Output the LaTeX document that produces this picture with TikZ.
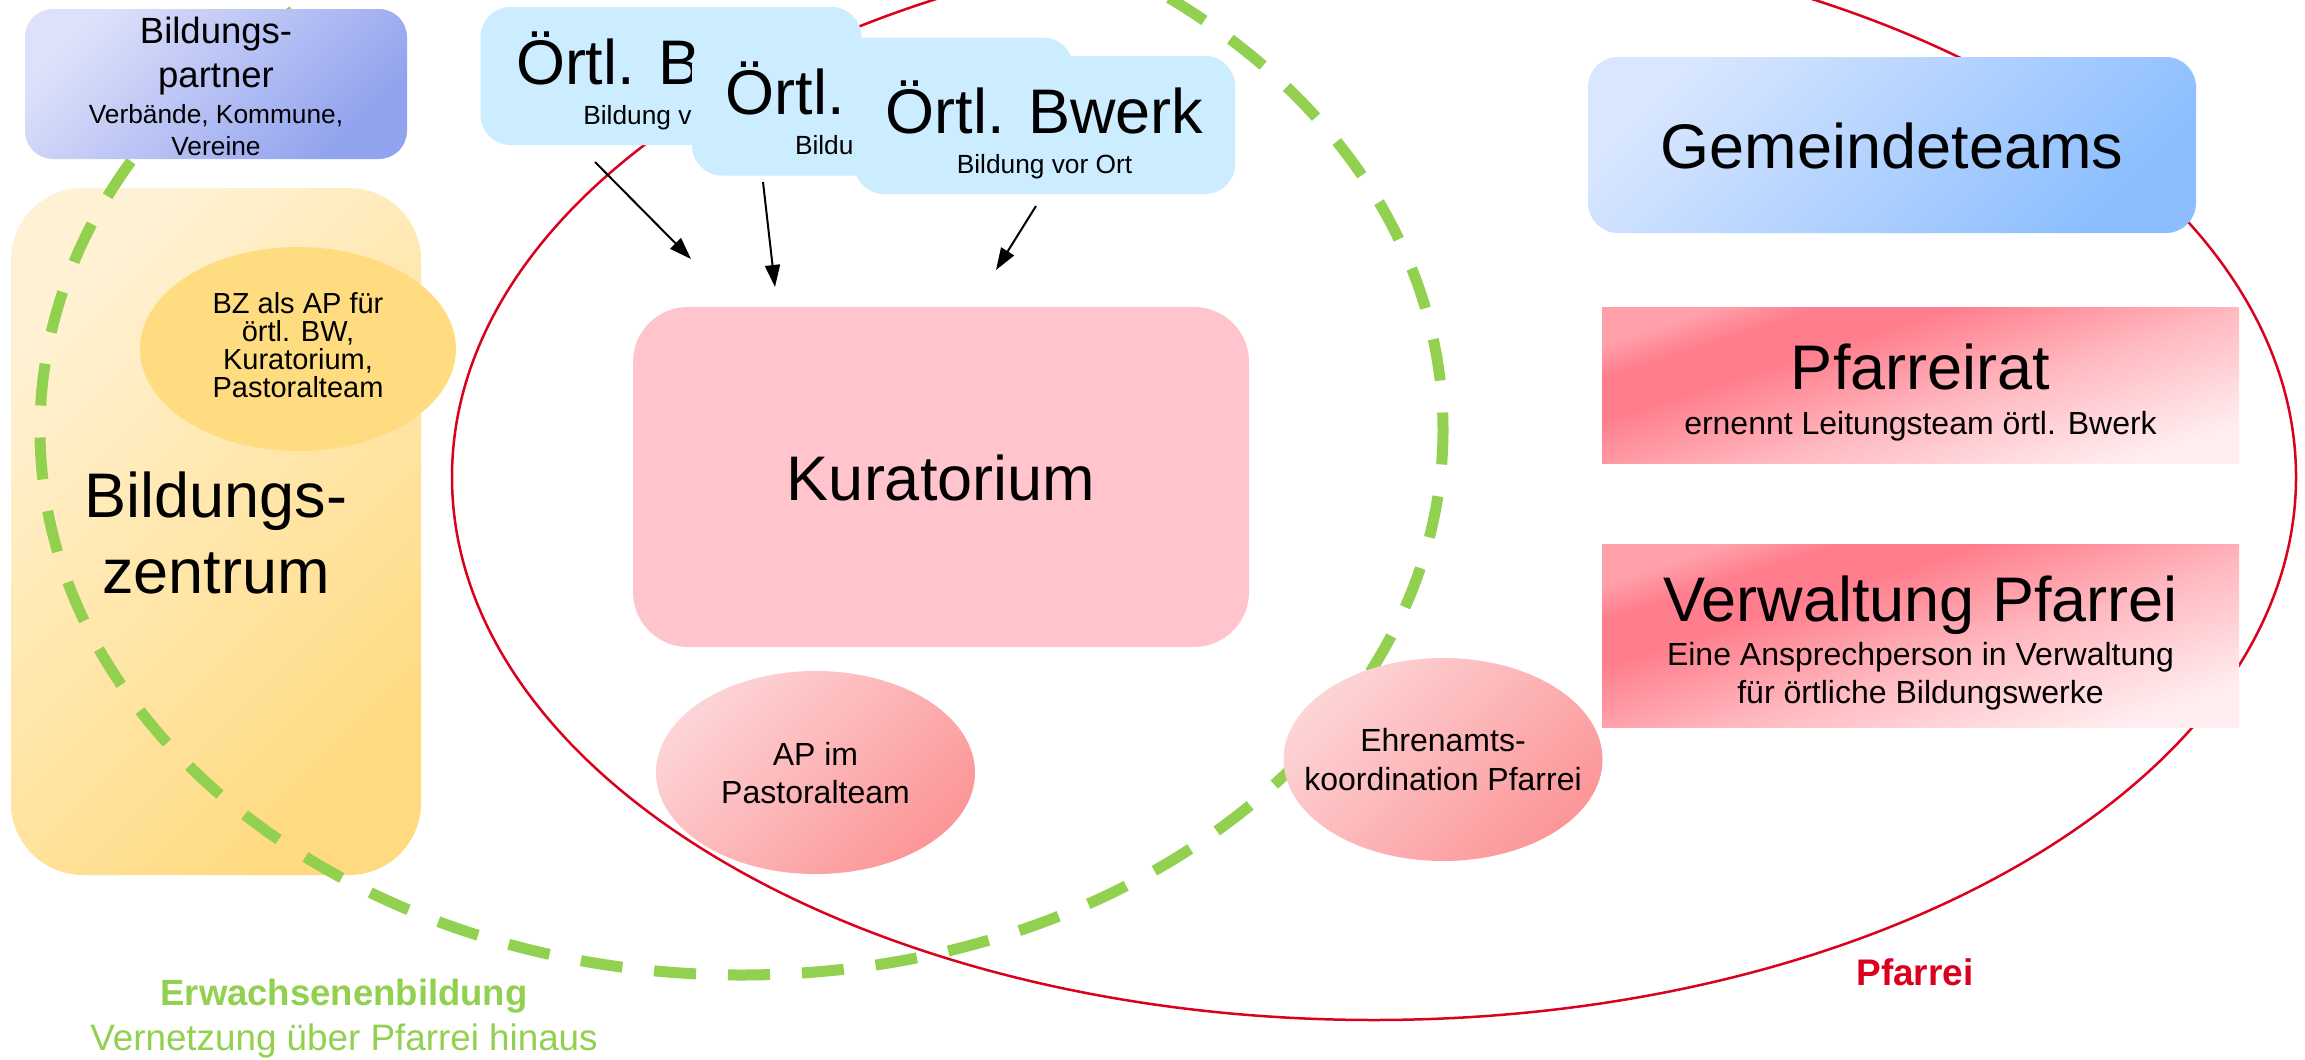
\documentclass[tikz,border=0pt]{standalone}
\usepackage{fontspec}
\setmainfont{Liberation Sans}
\usetikzlibrary{shapes.geometric,arrows.meta}
\definecolor{ewbgreen}{RGB}{146,208,80}
\definecolor{pfred}{RGB}{218,0,30}
\definecolor{oeblue}{RGB}{204,236,255}
\definecolor{kurpink}{RGB}{255,196,204}
\definecolor{bzyellow}{RGB}{255,220,128}
\definecolor{bpA}{RGB}{221,225,250}
\definecolor{bpB}{RGB}{145,162,238}
\definecolor{gmA}{RGB}{216,230,255}
\definecolor{gmB}{RGB}{140,190,255}
\definecolor{bzA}{RGB}{255,242,212}
\definecolor{bzB}{RGB}{255,218,128}
\definecolor{elA}{RGB}{253,212,214}
\definecolor{elB}{RGB}{252,150,152}
\definecolor{pfW}{RGB}{255,238,240}
\definecolor{pfL}{RGB}{255,185,192}
\definecolor{pfS}{RGB}{255,125,140}
\definecolor{pfT}{RGB}{255,160,170}
\pgfdeclareverticalshading{pfshade}{100bp}{color(0bp)=(pfW); color(25bp)=(pfW); color(45bp)=(pfL); color(62bp)=(pfS); color(69bp)=(pfS); color(75bp)=(pfT); color(100bp)=(pfT)}
\begin{document}
\begin{tikzpicture}[x=1pt,y=-1pt,
  box/.style={rectangle, inner sep=0pt, outer sep=0pt, draw=none},
  oebox/.style={box, fill=oeblue, minimum width=381pt, minimum height=138pt, rounded corners=30pt},
  txt/.style={inner sep=0pt, outer sep=0pt, anchor=base, align=center},
  txtw/.style={inner sep=0pt, outer sep=0pt, anchor=base west},
  ftbig/.style={font=\fontsize{63}{76}\selectfont},
  ftmid/.style={font=\fontsize{32}{38}\selectfont},
  ftsmall/.style={font=\fontsize{26.3}{32}\selectfont},
  pfbox/.style={box, shade, shading=pfshade, shading angle=18, minimum width=637pt},
  pinkell/.style={ellipse, inner sep=0pt, draw=none, top color=elA, bottom color=elB, shading angle=45, minimum width=319pt, minimum height=203pt},
  arr/.style={line width=2pt, -{Triangle[length=22pt,width=15pt]}}
]
\clip (0,0) rectangle (2305,1060);
\fill[white] (0,0) rectangle (2305,1060);

% Bildungszentrum box
\node[box, top color=bzA, bottom color=bzB, shading angle=45, minimum width=410pt, minimum height=687pt, rounded corners=72pt] (bz) at (216,531.5) {};

% green dashed ellipse (Erwachsenenbildung)
\node[ellipse, draw=ewbgreen, line width=11pt, dash pattern=on 42pt off 32pt, dash phase=24.5pt, minimum width=1403pt, minimum height=1090pt, inner sep=0pt] (ewb) at (741.5,430) {};

% red ellipse (Pfarrei)
\node[ellipse, draw=pfred, line width=2.5pt, minimum width=1844pt, minimum height=1086pt, inner sep=0pt] (pfarrei) at (1374,477) {};

% Bildungspartner
\node[box, top color=bpA, bottom color=bpB, shading angle=45, minimum width=382pt, minimum height=150pt, rounded corners=28pt] (bp) at (216,84) {};
\node[txt, font=\fontsize{36.5}{44}\selectfont] (bpt) at (216,87) {Bildungs-\\partner};
\node[txt, ftsmall] (bps) at (216,155) {Verbände, Kommune,\\Vereine};

% BZ ellipse and text
\node[ellipse, inner sep=0pt, fill=bzyellow, minimum width=316pt, minimum height=204pt] (bzap) at (298,349) {};
\node[txt, font=\fontsize{29}{28}\selectfont] (bzapt) at (298,397) {BZ als AP für\\örtl. BW,\\Kuratorium,\\Pastoralteam};
\node[txt, ftbig] (bzt) at (216,593) {Bildungs-\\zentrum};

% Oertliche Bildungswerke (partly covered by each other)
\node[oebox] (b1) at (671,76) {};
\node[txtw, ftbig] (b1t) at (516,84) {Örtl. B};
\node[txtw, ftsmall] (b1s) at (583.3,124) {Bildung v};
\node[oebox] (b2) at (882.5,106.5) {};
\node[txtw, ftbig] (b2t) at (725.5,114.5) {Örtl.};
\node[txtw, ftsmall] (b2s) at (795,154.5) {Bildu};
\node[oebox] (b3) at (1044.5,125) {};
\node[txt, ftbig] (b3t) at (1044.5,133) {Örtl. Bwerk};
\node[txt, ftsmall] (b3s) at (1044.5,173) {Bildung vor Ort};

% Kuratorium
\node[box, fill=kurpink, minimum width=616pt, minimum height=340pt, rounded corners=55pt] (kur) at (941,477) {};
\node[txt, ftbig] (kurt) at (941,500) {Kuratorium};

% Gemeindeteams
\node[box, top color=gmA, bottom color=gmB, shading angle=45, minimum width=608pt, minimum height=176pt, rounded corners=30pt] (gem) at (1892,145) {};
\node[txt, ftbig] (gemt) at (1892,168) {Gemeindeteams};

% Pfarreirat
\node[pfbox, minimum height=156pt] (pfr) at (1920.5,385) {};
\node[txt, ftbig] (pfrt) at (1920.5,389) {Pfarreirat};
\node[txt, ftmid] (pfrs) at (1920.5,434) {ernennt Leitungsteam örtl. Bwerk};

% Verwaltung Pfarrei
\node[pfbox, minimum height=183pt] (vw) at (1920.5,635.5) {};
\node[txt, ftbig] (vwt) at (1920.5,621) {Verwaltung Pfarrei};
\node[txt, ftmid] (vws) at (1920.5,703) {Eine Ansprechperson in Verwaltung\\für örtliche Bildungswerke};

% pink ellipses
\node[pinkell] (ap) at (815.5,772.5) {};
\node[txt, ftmid] (apt) at (815.5,803) {AP im\\Pastoralteam};
\node[pinkell] (ehr) at (1443,759.5) {};
\node[txt, font=\fontsize{32}{39}\selectfont] (ehrt) at (1443,790) {Ehrenamts-\\koordination Pfarrei};

% arrows
\coordinate (a1s) at (595,162);
\coordinate (a1e) at (691,259);
\coordinate (a2s) at (763,182);
\coordinate (a2e) at (775,287);
\coordinate (a3s) at (1036,206);
\coordinate (a3e) at (996,270);
\draw[arr] (a1s) -- (a1e);
\draw[arr] (a2s) -- (a2e);
\draw[arr] (a3s) -- (a3e);

% labels
\node[txt, text=ewbgreen, font=\fontsize{36.5}{44}\selectfont\bfseries] (ewbl) at (344,1005) {Erwachsenenbildung};
\node[txt, text=ewbgreen, font=\fontsize{36.8}{44}\selectfont] (ewbs) at (344,1050) {Vernetzung über Pfarrei hinaus};
\node[txt, text=pfred, font=\fontsize{37}{44}\selectfont\bfseries] (pfl) at (1915,985) {Pfarrei};
\end{tikzpicture}
\end{document}
